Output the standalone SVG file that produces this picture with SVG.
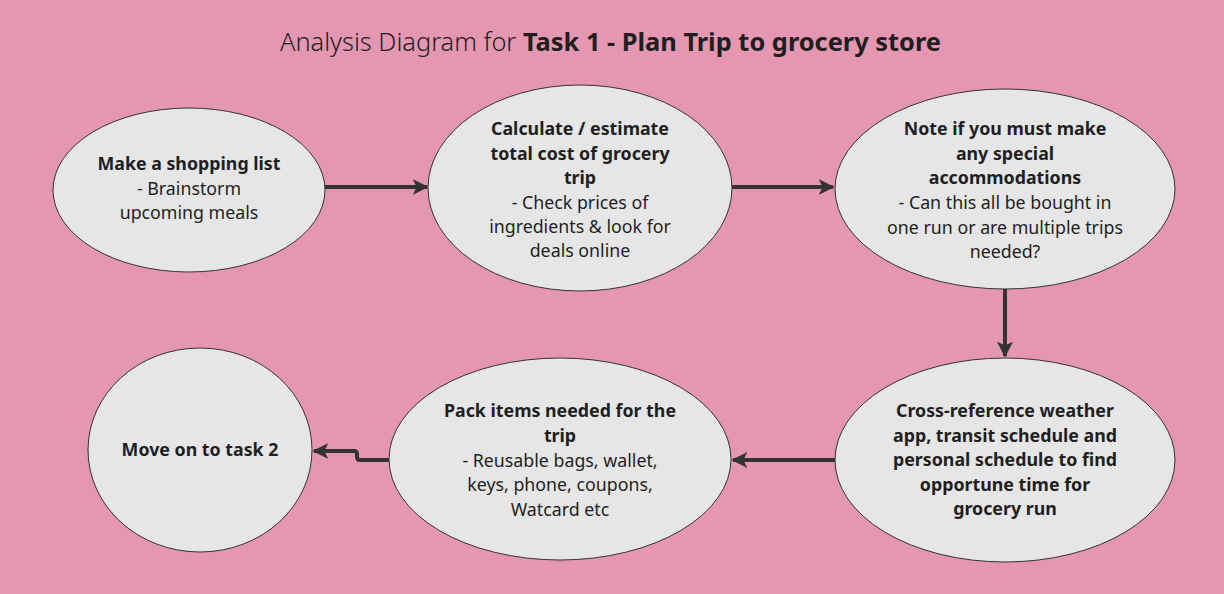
<svg xmlns="http://www.w3.org/2000/svg" width="1224" height="594" viewBox="0 0 1224 594">
<style>
.bg{fill:#e596b0}
.n{fill:#e6e6e6;stroke:#333;stroke-width:1}
text{font-family:"Noto Sans","Open Sans","Liberation Sans",sans-serif;font-size:17.8px;fill:#1f1f1f;text-anchor:middle}
.b{font-weight:bold}
.t{font-size:25.4px;text-anchor:start}
.c{fill:none;stroke:#333;stroke-width:4}
</style>
<defs>
<marker id="ah" viewBox="0 0 10 10" refX="9" refY="5" markerWidth="4" markerHeight="4" orient="auto" markerUnits="strokeWidth">
<path d="M0,0 L10,5 L0,10 L2.5,5 Z" fill="#333"/>
</marker>
</defs>
<rect class="bg" x="0" y="0" width="1224" height="594"/>
<text class="t" x="280" y="51"><tspan font-weight="300">Analysis Diagram for </tspan><tspan class="b">Task 1 - Plan Trip to grocery store</tspan></text>
<g id="connectors">
<path class="c" d="M325,187 H427" marker-end="url(#ah)"/>
<path class="c" d="M732,187 H833" marker-end="url(#ah)"/>
<path class="c" d="M1005,289 V356" marker-end="url(#ah)"/>
<path class="c" d="M835,460 H733" marker-end="url(#ah)"/>
<path class="c" d="M389,460 H360 Q357,460 357,457 V454 Q357,451 354,451 H314" marker-end="url(#ah)"/>
</g>
<g id="node1">
<ellipse class="n" cx="189" cy="190" rx="136" ry="82"/>
<text class="b" x="189" y="170">Make a shopping list</text>
<text x="189" y="195">- Brainstorm</text>
<text x="189" y="219">upcoming meals</text>
</g>
<g id="node2">
<ellipse class="n" cx="580" cy="188" rx="152" ry="103"/>
<text class="b" x="580" y="135">Calculate / estimate</text>
<text class="b" x="580" y="160">total cost of grocery</text>
<text class="b" x="580" y="184">trip</text>
<text x="580" y="209">- Check prices of</text>
<text x="580" y="233">ingredients &amp; look for</text>
<text x="580" y="257">deals online</text>
</g>
<g id="node3">
<ellipse class="n" cx="1005" cy="189" rx="170" ry="100"/>
<text class="b" x="1005" y="135">Note if you must make</text>
<text class="b" x="1005" y="160">any special</text>
<text class="b" x="1005" y="184">accommodations</text>
<text x="1005" y="209">- Can this all be bought in</text>
<text x="1005" y="234">one run or are multiple trips</text>
<text x="1005" y="258">needed?</text>
</g>
<g id="node4">
<ellipse class="n" cx="1005" cy="460" rx="170" ry="102"/>
<text class="b" x="1005" y="417">Cross-reference weather</text>
<text class="b" x="1005" y="442">app, transit schedule and</text>
<text class="b" x="1005" y="466">personal schedule to find</text>
<text class="b" x="1005" y="491">opportune time for</text>
<text class="b" x="1005" y="515">grocery run</text>
</g>
<g id="node5">
<ellipse class="n" cx="560" cy="459" rx="171" ry="101"/>
<text class="b" x="560" y="417">Pack items needed for the</text>
<text class="b" x="560" y="442">trip</text>
<text x="560" y="467">- Reusable bags, wallet,</text>
<text x="560" y="491">keys, phone, coupons,</text>
<text x="560" y="516">Watcard etc</text>
</g>
<g id="node6">
<ellipse class="n" cx="200" cy="450" rx="112" ry="102"/>
<text class="b" x="200" y="456">Move on to task 2</text>
</g>
</svg>
